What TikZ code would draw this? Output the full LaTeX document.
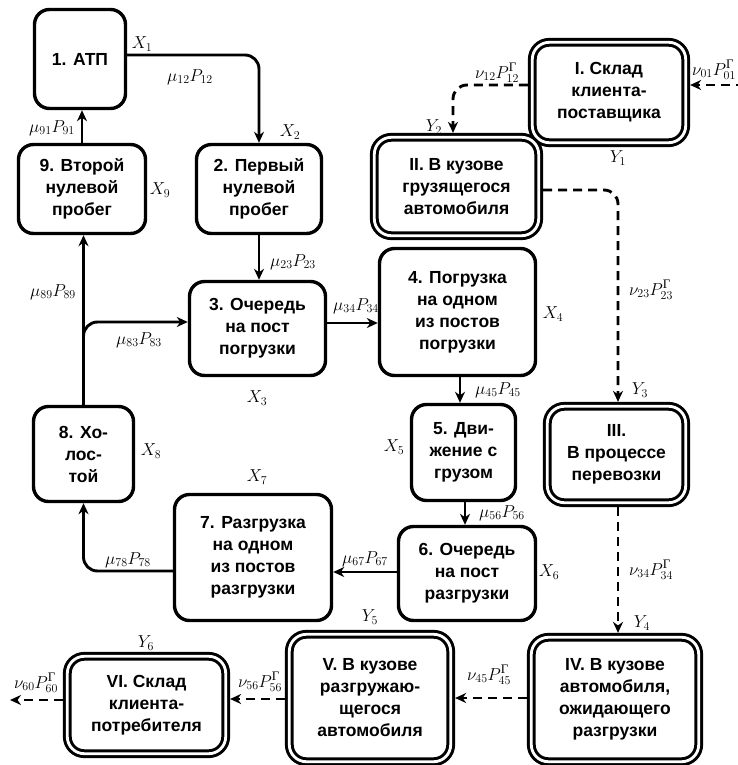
\documentclass[tikz,border=0pt]{standalone}
\usepackage{amsmath}
\usepackage{fontspec}
\setmainfont{Liberation Sans}
\newfontfamily\gfont{Liberation Serif}
\usetikzlibrary{arrows.meta}
\newcommand\Gsup{\text{\gfont\fontsize{13}{13}\selectfont Г}}
\newcommand\boxfont{\fontsize{17.5}{22}\selectfont\bfseries}
\newcommand\labfont{\fontsize{18}{20}\selectfont}
\tikzset{
  sbox/.style={draw, line width=3.4pt, rounded corners=15pt, align=center, font=\boxfont, inner sep=0pt},
  dbox/.style={draw, double, line width=3pt, double distance=2.8pt, rounded corners=17pt, align=center, font=\boxfont, inner sep=0pt, outer sep=4.4pt},
  arr/.style={line width=2.9pt, -{Stealth[length=11pt,width=10pt,inset=3.5pt]}, rounded corners=14pt},
  darr/.style={arr, dash pattern=on 9pt off 6pt},
  lab/.style={font=\labfont, inner sep=0pt}
}
\begin{document}
\begin{tikzpicture}[x=1pt,y=-1pt]
\useasboundingbox (0,0) rectangle (737,765);
% single boxes
\node[sbox, minimum width=91pt, minimum height=99pt] (n1) at (80,59) {1. АТП};
\node[sbox, minimum width=127pt, minimum height=89pt] (n9) at (82,189) {9. Второй\\нулевой\\пробег};
\node[sbox, minimum width=125pt, minimum height=89pt] (n2) at (259,189) {2. Первый\\нулевой\\пробег};
\node[sbox, minimum width=136pt, minimum height=94pt] (n3) at (257.5,328.5) {3. Очередь\\на пост\\погрузки};
\node[sbox, minimum width=100pt, minimum height=95pt] (n8) at (83.5,454) {8. Хо-\\лос-\\той};
\node[sbox, minimum width=156pt, minimum height=127pt] (n4) at (457.5,312) {4. Погрузка\\на одном\\из постов\\погрузки};
\node[sbox, minimum width=104pt, minimum height=96pt] (n5) at (463.5,452.5) {5. Дви-\\жение с\\грузом};
\node[sbox, minimum width=157pt, minimum height=126pt] (n7) at (253,557.5) {7. Разгрузка\\на одном\\из постов\\разгрузки};
\node[sbox, minimum width=137pt, minimum height=94pt] (n6) at (467,573.5) {6. Очередь\\на пост\\разгрузки};
% double boxes
\node[dbox, minimum width=153.4pt, minimum height=100.4pt] (nI) at (609,92.5) {I. Склад\\клиента-\\поставщика};
\node[dbox, minimum width=164.4pt, minimum height=98.4pt] (nII) at (456.5,186.5) {II. В кузове\\грузящегося\\автомобиля};
\node[dbox, minimum width=138.4pt, minimum height=96.4pt] (nIII) at (616.5,454.5) {III.\\В процессе\\перевозки};
\node[dbox, minimum width=167.4pt, minimum height=124.4pt] (nIV) at (615,699.5) {IV. В кузове\\автомобиля,\\ожидающего\\разгрузки};
\node[dbox, minimum width=161.4pt, minimum height=127.4pt] (nV) at (370,698) {V. В кузове\\разгружаю-\\щегося\\автомобиля};
\node[dbox, minimum width=158.4pt, minimum height=97.4pt] (nVI) at (146.5,705) {VI. Склад\\клиента-\\потребителя};
% solid connectors
\draw[arr] (n1.east |- 0,55) -| (n2.north);
\draw[arr] (n9.north) -- (n9.north |- n1.south);
\draw[arr] (n2.south) -- (n2.south |- n3.north);
\draw[arr] (n8.north) -- (n8.north |- n9.south);
\coordinate (br) at (83.5,352);
\draw[arr] (br) |- (n3.west |- 0,322);
\draw[arr] (n3.east |- 0,323) -- (n4.west |- 0,323);
\draw[arr] (n4.south -| 460,0) -- (n5.north -| 460,0);
\draw[arr] (n5.south -| 465,0) -- (n6.north -| 465,0);
\draw[arr] (n6.west |- 0,572) -- (n7.east |- 0,572);
\draw[arr] (n7.west |- 0,571) -| (n8.south);
% dashed connectors
\coordinate (srcI) at (745,85);
\coordinate (sinkVI) at (10,700);
\draw[darr] (srcI) -- (nI.east |- srcI);
\draw[darr] (nI.west |- 0,85) -| (nII.north -| 453,0);
\draw[darr] (nII.east |- 0,190) -| (nIII.north -| 618,0);
\draw[darr] (nIII.south -| 618,0) -- (nIV.north -| 618,0);
\draw[darr] (nIV.west |- 0,698) -- (nV.east |- 0,698);
\draw[darr] (nV.west |- 0,699) -- (nVI.east |- 0,699);
\draw[darr] (nVI.west |- sinkVI) -- (sinkVI);
% labels
\node[lab] (lx1) at (142,44) {$X_1$};
\node[lab] (lm12) at (190,77) {$\mu_{12}P_{12}$};
\node[lab] (lx2) at (290,132) {$X_2$};
\node[lab] (lm91) at (52,128) {$\mu_{91}P_{91}$};
\node[lab] (lx9) at (160,190) {$X_9$};
\node[lab] (lm23) at (293,262) {$\mu_{23}P_{23}$};
\node[lab] (lm89) at (53,292) {$\mu_{89}P_{89}$};
\node[lab] (lm83) at (139,340) {$\mu_{83}P_{83}$};
\node[lab] (lx3) at (257,398) {$X_3$};
\node[lab] (lm34) at (356,306) {$\mu_{34}P_{34}$};
\node[lab] (lx4) at (553,314) {$X_4$};
\node[lab] (lm45) at (498,390) {$\mu_{45}P_{45}$};
\node[lab] (lx5) at (394,447) {$X_5$};
\node[lab] (lx8) at (151,451) {$X_8$};
\node[lab] (lx7) at (257,477) {$X_7$};
\node[lab] (lm56) at (502,513) {$\mu_{56}P_{56}$};
\node[lab] (lm67) at (365,559) {$\mu_{67}P_{67}$};
\node[lab] (lx6) at (549,572) {$X_6$};
\node[lab] (lm78) at (128,560) {$\mu_{78}P_{78}$};
\node[lab] (ln12) at (497,73) {$\nu_{12}P^{\Gsup}_{12}$};
\node[lab, anchor=west] (ln01) at (692,70) {$\nu_{01}P^{\Gsup}_{01}$};
\node[lab] (ly1) at (618,158) {$Y_1$};
\node[lab] (ly2) at (434,127) {$Y_2$};
\node[lab] (ln23) at (651,290) {$\nu_{23}P^{\Gsup}_{23}$};
\node[lab] (ly3) at (640,390) {$Y_3$};
\node[lab] (ln34) at (651,570) {$\nu_{34}P^{\Gsup}_{34}$};
\node[lab] (ly4) at (642,623) {$Y_4$};
\node[lab] (ln45) at (489,675) {$\nu_{45}P^{\Gsup}_{45}$};
\node[lab] (ly5) at (370,617) {$Y_5$};
\node[lab] (ln56) at (260,682) {$\nu_{56}P^{\Gsup}_{56}$};
\node[lab] (ln60) at (36,683) {$\nu_{60}P^{\Gsup}_{60}$};
\node[lab] (ly6) at (146,643) {$Y_6$};
\end{tikzpicture}
\end{document}
